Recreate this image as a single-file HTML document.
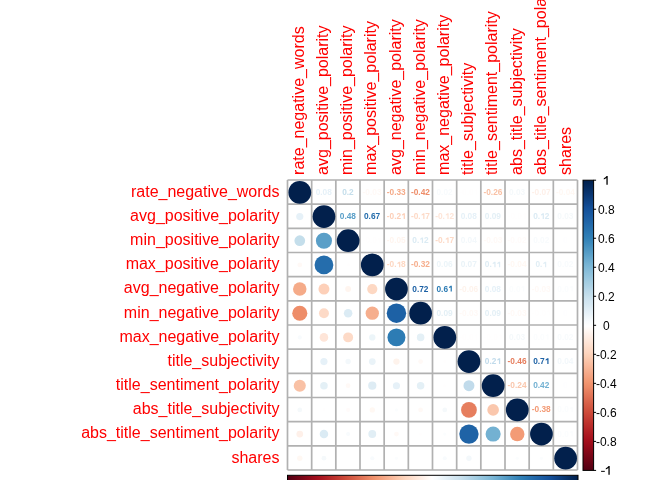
<!DOCTYPE html><html><head><meta charset="utf-8"><style>html,body{margin:0;padding:0;background:#fff;width:672px;height:480px;overflow:hidden}svg{display:block;will-change:transform}text{font-family:"Liberation Sans",sans-serif}</style></head><body>
<svg width="672" height="480" viewBox="0 0 672 480">
<defs><linearGradient id="gv" x1="0" y1="1" x2="0" y2="0">
<stop offset="0.000" stop-color="#520012"/>
<stop offset="0.015" stop-color="#5D0114"/>
<stop offset="0.030" stop-color="#6A0315"/>
<stop offset="0.045" stop-color="#750516"/>
<stop offset="0.060" stop-color="#810718"/>
<stop offset="0.075" stop-color="#8E0919"/>
<stop offset="0.090" stop-color="#9B0C1B"/>
<stop offset="0.106" stop-color="#A5101D"/>
<stop offset="0.121" stop-color="#AB1821"/>
<stop offset="0.136" stop-color="#B22125"/>
<stop offset="0.151" stop-color="#B82B2A"/>
<stop offset="0.166" stop-color="#BF342E"/>
<stop offset="0.181" stop-color="#C43E34"/>
<stop offset="0.196" stop-color="#CC4838"/>
<stop offset="0.211" stop-color="#D0533F"/>
<stop offset="0.226" stop-color="#D65D46"/>
<stop offset="0.241" stop-color="#DB684E"/>
<stop offset="0.256" stop-color="#E17356"/>
<stop offset="0.271" stop-color="#E67E5E"/>
<stop offset="0.286" stop-color="#EC8A67"/>
<stop offset="0.302" stop-color="#F1956F"/>
<stop offset="0.317" stop-color="#F39E7A"/>
<stop offset="0.332" stop-color="#F5A786"/>
<stop offset="0.347" stop-color="#F6B191"/>
<stop offset="0.362" stop-color="#F9BA9D"/>
<stop offset="0.377" stop-color="#FAC4A8"/>
<stop offset="0.392" stop-color="#FBCEB4"/>
<stop offset="0.407" stop-color="#FDD6C0"/>
<stop offset="0.422" stop-color="#FDDCC9"/>
<stop offset="0.437" stop-color="#FEE3D4"/>
<stop offset="0.452" stop-color="#FEEADE"/>
<stop offset="0.467" stop-color="#FEF0E9"/>
<stop offset="0.482" stop-color="#FFF8F3"/>
<stop offset="0.497" stop-color="#FFFEFE"/>
<stop offset="0.513" stop-color="#F8FBFD"/>
<stop offset="0.528" stop-color="#EFF6FA"/>
<stop offset="0.543" stop-color="#E6F1F8"/>
<stop offset="0.558" stop-color="#DEECF4"/>
<stop offset="0.573" stop-color="#D5E7F1"/>
<stop offset="0.588" stop-color="#CEE3EF"/>
<stop offset="0.603" stop-color="#C4DEEB"/>
<stop offset="0.618" stop-color="#BAD8E9"/>
<stop offset="0.633" stop-color="#AED2E5"/>
<stop offset="0.648" stop-color="#A4CDE1"/>
<stop offset="0.663" stop-color="#98C7DF"/>
<stop offset="0.678" stop-color="#8EC1DB"/>
<stop offset="0.693" stop-color="#83BBD8"/>
<stop offset="0.709" stop-color="#77B4D4"/>
<stop offset="0.724" stop-color="#6BABCF"/>
<stop offset="0.739" stop-color="#5EA3CA"/>
<stop offset="0.754" stop-color="#539AC4"/>
<stop offset="0.769" stop-color="#4792C0"/>
<stop offset="0.784" stop-color="#3C89BB"/>
<stop offset="0.799" stop-color="#3181B6"/>
<stop offset="0.814" stop-color="#2C7AB3"/>
<stop offset="0.829" stop-color="#2772AE"/>
<stop offset="0.844" stop-color="#236BAB"/>
<stop offset="0.859" stop-color="#1F63A6"/>
<stop offset="0.874" stop-color="#1B5DA3"/>
<stop offset="0.889" stop-color="#17569E"/>
<stop offset="0.905" stop-color="#134F98"/>
<stop offset="0.920" stop-color="#10468B"/>
<stop offset="0.935" stop-color="#0D3F7F"/>
<stop offset="0.950" stop-color="#0A3773"/>
<stop offset="0.965" stop-color="#073067"/>
<stop offset="0.980" stop-color="#05295B"/>
<stop offset="0.995" stop-color="#022250"/>
<stop offset="1" stop-color="#02204C"/>
</linearGradient><linearGradient id="gh" x1="0" y1="0" x2="1" y2="0">
<stop offset="0.000" stop-color="#520012"/>
<stop offset="0.015" stop-color="#5D0114"/>
<stop offset="0.030" stop-color="#6A0315"/>
<stop offset="0.045" stop-color="#750516"/>
<stop offset="0.060" stop-color="#810718"/>
<stop offset="0.075" stop-color="#8E0919"/>
<stop offset="0.090" stop-color="#9B0C1B"/>
<stop offset="0.106" stop-color="#A5101D"/>
<stop offset="0.121" stop-color="#AB1821"/>
<stop offset="0.136" stop-color="#B22125"/>
<stop offset="0.151" stop-color="#B82B2A"/>
<stop offset="0.166" stop-color="#BF342E"/>
<stop offset="0.181" stop-color="#C43E34"/>
<stop offset="0.196" stop-color="#CC4838"/>
<stop offset="0.211" stop-color="#D0533F"/>
<stop offset="0.226" stop-color="#D65D46"/>
<stop offset="0.241" stop-color="#DB684E"/>
<stop offset="0.256" stop-color="#E17356"/>
<stop offset="0.271" stop-color="#E67E5E"/>
<stop offset="0.286" stop-color="#EC8A67"/>
<stop offset="0.302" stop-color="#F1956F"/>
<stop offset="0.317" stop-color="#F39E7A"/>
<stop offset="0.332" stop-color="#F5A786"/>
<stop offset="0.347" stop-color="#F6B191"/>
<stop offset="0.362" stop-color="#F9BA9D"/>
<stop offset="0.377" stop-color="#FAC4A8"/>
<stop offset="0.392" stop-color="#FBCEB4"/>
<stop offset="0.407" stop-color="#FDD6C0"/>
<stop offset="0.422" stop-color="#FDDCC9"/>
<stop offset="0.437" stop-color="#FEE3D4"/>
<stop offset="0.452" stop-color="#FEEADE"/>
<stop offset="0.467" stop-color="#FEF0E9"/>
<stop offset="0.482" stop-color="#FFF8F3"/>
<stop offset="0.497" stop-color="#FFFEFE"/>
<stop offset="0.513" stop-color="#F8FBFD"/>
<stop offset="0.528" stop-color="#EFF6FA"/>
<stop offset="0.543" stop-color="#E6F1F8"/>
<stop offset="0.558" stop-color="#DEECF4"/>
<stop offset="0.573" stop-color="#D5E7F1"/>
<stop offset="0.588" stop-color="#CEE3EF"/>
<stop offset="0.603" stop-color="#C4DEEB"/>
<stop offset="0.618" stop-color="#BAD8E9"/>
<stop offset="0.633" stop-color="#AED2E5"/>
<stop offset="0.648" stop-color="#A4CDE1"/>
<stop offset="0.663" stop-color="#98C7DF"/>
<stop offset="0.678" stop-color="#8EC1DB"/>
<stop offset="0.693" stop-color="#83BBD8"/>
<stop offset="0.709" stop-color="#77B4D4"/>
<stop offset="0.724" stop-color="#6BABCF"/>
<stop offset="0.739" stop-color="#5EA3CA"/>
<stop offset="0.754" stop-color="#539AC4"/>
<stop offset="0.769" stop-color="#4792C0"/>
<stop offset="0.784" stop-color="#3C89BB"/>
<stop offset="0.799" stop-color="#3181B6"/>
<stop offset="0.814" stop-color="#2C7AB3"/>
<stop offset="0.829" stop-color="#2772AE"/>
<stop offset="0.844" stop-color="#236BAB"/>
<stop offset="0.859" stop-color="#1F63A6"/>
<stop offset="0.874" stop-color="#1B5DA3"/>
<stop offset="0.889" stop-color="#17569E"/>
<stop offset="0.905" stop-color="#134F98"/>
<stop offset="0.920" stop-color="#10468B"/>
<stop offset="0.935" stop-color="#0D3F7F"/>
<stop offset="0.950" stop-color="#0A3773"/>
<stop offset="0.965" stop-color="#073067"/>
<stop offset="0.980" stop-color="#05295B"/>
<stop offset="0.995" stop-color="#022250"/>
<stop offset="1" stop-color="#02204C"/>
</linearGradient></defs>
<path d="M287.50 180.00V470.00M287.50 180.00H577.50M311.67 180.00V470.00M287.50 204.17H577.50M335.83 180.00V470.00M287.50 228.33H577.50M360.00 180.00V470.00M287.50 252.50H577.50M384.17 180.00V470.00M287.50 276.67H577.50M408.33 180.00V470.00M287.50 300.83H577.50M432.50 180.00V470.00M287.50 325.00H577.50M456.67 180.00V470.00M287.50 349.17H577.50M480.83 180.00V470.00M287.50 373.33H577.50M505.00 180.00V470.00M287.50 397.50H577.50M529.17 180.00V470.00M287.50 421.67H577.50M553.33 180.00V470.00M287.50 445.83H577.50M577.50 180.00V470.00M287.50 470.00H577.50" stroke="#B1B1B1" stroke-width="1.70" fill="none"/>
<circle cx="299.78" cy="192.38" r="11.38" fill="#02204C"/>
<text x="323.75" y="194.98" font-size="8.3" font-weight="bold" text-anchor="middle" fill="#E6F1F8">0.08</text>
<text x="347.92" y="194.98" font-size="8.3" font-weight="bold" text-anchor="middle" fill="#C4DEEB">0.2</text>
<text x="372.08" y="194.98" font-size="8.3" font-weight="bold" text-anchor="middle" fill="#FFF9F6">-0.03</text>
<text x="396.25" y="194.98" font-size="8.3" font-weight="bold" text-anchor="middle" fill="#F5AB89">-0.33</text>
<text x="420.42" y="194.98" font-size="8.3" font-weight="bold" text-anchor="middle" fill="#EE8D69">-0.42</text>
<text x="444.58" y="194.98" font-size="8.3" font-weight="bold" text-anchor="middle" fill="#F8FBFD">0.02</text>
<path d="M476.17 189.17 L477.41 189.17 L477.41 194.73 L476.17 194.73 L476.17 190.92 L474.51 191.41 L474.51 190.42 Z" fill="#FFFEFE"/>
<text x="459.29" y="194.98" font-size="8.3" font-weight="bold" fill="#FFFEFE">-</text>
<text x="462.06" y="194.98" font-size="8.3" font-weight="bold" fill="#FFFEFE">0</text>
<text x="466.67" y="194.98" font-size="8.3" font-weight="bold" fill="#FFFEFE">.</text>
<text x="468.98" y="194.98" font-size="8.3" font-weight="bold" fill="#FFFEFE">0</text>
<text x="492.92" y="194.98" font-size="8.3" font-weight="bold" text-anchor="middle" fill="#F9C1A5">-0.26</text>
<text x="517.08" y="194.98" font-size="8.3" font-weight="bold" text-anchor="middle" fill="#F5F9FB">0.03</text>
<text x="541.25" y="194.98" font-size="8.3" font-weight="bold" text-anchor="middle" fill="#FEF0E9">-0.07</text>
<text x="565.42" y="194.98" font-size="8.3" font-weight="bold" text-anchor="middle" fill="#FFF8F3">-0.04</text>
<circle cx="299.78" cy="216.55" r="3.58" fill="#E6F1F8"/>
<circle cx="323.95" cy="216.55" r="11.38" fill="#02204C"/>
<text x="347.92" y="219.15" font-size="8.3" font-weight="bold" text-anchor="middle" fill="#5A9FC8">0.48</text>
<text x="372.08" y="219.15" font-size="8.3" font-weight="bold" text-anchor="middle" fill="#256DAC">0.67</text>
<path d="M403.67 213.34 L404.91 213.34 L404.91 218.90 L403.67 218.90 L403.67 215.08 L402.01 215.58 L402.01 214.59 Z" fill="#FDD0B9"/>
<text x="386.79" y="219.15" font-size="8.3" font-weight="bold" fill="#FDD0B9">-</text>
<text x="389.56" y="219.15" font-size="8.3" font-weight="bold" fill="#FDD0B9">0</text>
<text x="394.17" y="219.15" font-size="8.3" font-weight="bold" fill="#FDD0B9">.</text>
<text x="396.48" y="219.15" font-size="8.3" font-weight="bold" fill="#FDD0B9">2</text>
<path d="M423.22 213.34 L424.46 213.34 L424.46 218.90 L423.22 218.90 L423.22 215.08 L421.56 215.58 L421.56 214.59 Z" fill="#FDDAC7"/>
<text x="410.96" y="219.15" font-size="8.3" font-weight="bold" fill="#FDDAC7">-</text>
<text x="413.72" y="219.15" font-size="8.3" font-weight="bold" fill="#FDDAC7">0</text>
<text x="418.34" y="219.15" font-size="8.3" font-weight="bold" fill="#FDDAC7">.</text>
<text x="425.26" y="219.15" font-size="8.3" font-weight="bold" fill="#FDDAC7">7</text>
<path d="M447.38 213.34 L448.63 213.34 L448.63 218.90 L447.38 218.90 L447.38 215.08 L445.72 215.58 L445.72 214.59 Z" fill="#FEE5D8"/>
<text x="435.13" y="219.15" font-size="8.3" font-weight="bold" fill="#FEE5D8">-</text>
<text x="437.89" y="219.15" font-size="8.3" font-weight="bold" fill="#FEE5D8">0</text>
<text x="442.50" y="219.15" font-size="8.3" font-weight="bold" fill="#FEE5D8">.</text>
<text x="449.43" y="219.15" font-size="8.3" font-weight="bold" fill="#FEE5D8">2</text>
<text x="468.75" y="219.15" font-size="8.3" font-weight="bold" text-anchor="middle" fill="#E6F1F8">0.08</text>
<text x="492.92" y="219.15" font-size="8.3" font-weight="bold" text-anchor="middle" fill="#E4F0F6">0.09</text>
<path d="M524.50 213.34 L525.74 213.34 L525.74 218.90 L524.50 218.90 L524.50 215.08 L522.84 215.58 L522.84 214.59 Z" fill="#FFFEFE"/>
<text x="507.63" y="219.15" font-size="8.3" font-weight="bold" fill="#FFFEFE">-</text>
<text x="510.39" y="219.15" font-size="8.3" font-weight="bold" fill="#FFFEFE">0</text>
<text x="515.00" y="219.15" font-size="8.3" font-weight="bold" fill="#FFFEFE">.</text>
<text x="517.31" y="219.15" font-size="8.3" font-weight="bold" fill="#FFFEFE">0</text>
<path d="M542.67 213.34 L543.91 213.34 L543.91 218.90 L542.67 218.90 L542.67 215.08 L541.01 215.58 L541.01 214.59 Z" fill="#DBEBF4"/>
<text x="533.17" y="219.15" font-size="8.3" font-weight="bold" fill="#DBEBF4">0</text>
<text x="537.79" y="219.15" font-size="8.3" font-weight="bold" fill="#DBEBF4">.</text>
<text x="544.71" y="219.15" font-size="8.3" font-weight="bold" fill="#DBEBF4">2</text>
<text x="565.42" y="219.15" font-size="8.3" font-weight="bold" text-anchor="middle" fill="#F5F9FB">0.03</text>
<circle cx="299.78" cy="240.72" r="5.36" fill="#C4DEEB"/>
<circle cx="323.95" cy="240.72" r="8.03" fill="#5A9FC8"/>
<circle cx="348.12" cy="240.72" r="11.38" fill="#02204C"/>
<path d="M379.50 237.51 L380.74 237.51 L380.74 243.07 L379.50 243.07 L379.50 239.25 L377.84 239.75 L377.84 238.75 Z" fill="#FFFEFE"/>
<text x="362.63" y="243.32" font-size="8.3" font-weight="bold" fill="#FFFEFE">-</text>
<text x="365.39" y="243.32" font-size="8.3" font-weight="bold" fill="#FFFEFE">0</text>
<text x="370.00" y="243.32" font-size="8.3" font-weight="bold" fill="#FFFEFE">.</text>
<text x="372.31" y="243.32" font-size="8.3" font-weight="bold" fill="#FFFEFE">0</text>
<text x="396.25" y="243.32" font-size="8.3" font-weight="bold" text-anchor="middle" fill="#FFF5EF">-0.05</text>
<path d="M421.84 237.51 L423.08 237.51 L423.08 243.07 L421.84 243.07 L421.84 239.25 L420.18 239.75 L420.18 238.75 Z" fill="#DBEBF4"/>
<text x="412.34" y="243.32" font-size="8.3" font-weight="bold" fill="#DBEBF4">0</text>
<text x="416.96" y="243.32" font-size="8.3" font-weight="bold" fill="#DBEBF4">.</text>
<text x="423.88" y="243.32" font-size="8.3" font-weight="bold" fill="#DBEBF4">2</text>
<path d="M447.38 237.51 L448.63 237.51 L448.63 243.07 L447.38 243.07 L447.38 239.25 L445.72 239.75 L445.72 238.75 Z" fill="#FDDAC7"/>
<text x="435.13" y="243.32" font-size="8.3" font-weight="bold" fill="#FDDAC7">-</text>
<text x="437.89" y="243.32" font-size="8.3" font-weight="bold" fill="#FDDAC7">0</text>
<text x="442.50" y="243.32" font-size="8.3" font-weight="bold" fill="#FDDAC7">.</text>
<text x="449.43" y="243.32" font-size="8.3" font-weight="bold" fill="#FDDAC7">7</text>
<text x="468.75" y="243.32" font-size="8.3" font-weight="bold" text-anchor="middle" fill="#F3F8FB">0.04</text>
<text x="492.92" y="243.32" font-size="8.3" font-weight="bold" text-anchor="middle" fill="#FFF9F6">-0.03</text>
<text x="517.08" y="243.32" font-size="8.3" font-weight="bold" text-anchor="middle" fill="#FFFBFA">-0.02</text>
<text x="541.25" y="243.32" font-size="8.3" font-weight="bold" text-anchor="middle" fill="#F8FBFD">0.02</text>
<text x="565.42" y="243.32" font-size="8.3" font-weight="bold" text-anchor="middle" fill="#FEFEFF">0</text>
<circle cx="299.78" cy="264.88" r="2.38" fill="#FFF9F6"/>
<circle cx="323.95" cy="264.88" r="9.40" fill="#256DAC"/>
<circle cx="348.12" cy="264.88" r="1.59" fill="#FFFEFE"/>
<circle cx="372.28" cy="264.88" r="11.38" fill="#02204C"/>
<path d="M399.05 261.67 L400.30 261.67 L400.30 267.23 L399.05 267.23 L399.05 263.42 L397.39 263.91 L397.39 262.92 Z" fill="#FDD8C3"/>
<text x="386.79" y="267.48" font-size="8.3" font-weight="bold" fill="#FDD8C3">-</text>
<text x="389.56" y="267.48" font-size="8.3" font-weight="bold" fill="#FDD8C3">0</text>
<text x="394.17" y="267.48" font-size="8.3" font-weight="bold" fill="#FDD8C3">.</text>
<text x="401.09" y="267.48" font-size="8.3" font-weight="bold" fill="#FDD8C3">8</text>
<text x="420.42" y="267.48" font-size="8.3" font-weight="bold" text-anchor="middle" fill="#F6AE8D">-0.32</text>
<text x="444.58" y="267.48" font-size="8.3" font-weight="bold" text-anchor="middle" fill="#ECF5F9">0.06</text>
<text x="468.75" y="267.48" font-size="8.3" font-weight="bold" text-anchor="middle" fill="#EAF3F8">0.07</text>
<path d="M494.34 261.67 L495.58 261.67 L495.58 267.23 L494.34 267.23 L494.34 263.42 L492.68 263.91 L492.68 262.92 Z" fill="#DEECF4"/>
<path d="M498.95 261.67 L500.20 261.67 L500.20 267.23 L498.95 267.23 L498.95 263.42 L497.29 263.91 L497.29 262.92 Z" fill="#DEECF4"/>
<text x="484.84" y="267.48" font-size="8.3" font-weight="bold" fill="#DEECF4">0</text>
<text x="489.46" y="267.48" font-size="8.3" font-weight="bold" fill="#DEECF4">.</text>
<text x="517.08" y="267.48" font-size="8.3" font-weight="bold" text-anchor="middle" fill="#FFF8F3">-0.04</text>
<path d="M544.98 261.67 L546.22 261.67 L546.22 267.23 L544.98 267.23 L544.98 263.42 L543.32 263.91 L543.32 262.92 Z" fill="#E1EEF5"/>
<text x="535.48" y="267.48" font-size="8.3" font-weight="bold" fill="#E1EEF5">0</text>
<text x="540.10" y="267.48" font-size="8.3" font-weight="bold" fill="#E1EEF5">.</text>
<text x="565.42" y="267.48" font-size="8.3" font-weight="bold" text-anchor="middle" fill="#F8FBFD">0.02</text>
<circle cx="299.78" cy="289.05" r="6.75" fill="#F5AB89"/>
<circle cx="323.95" cy="289.05" r="5.48" fill="#FDD0B9"/>
<circle cx="348.12" cy="289.05" r="2.93" fill="#FFF5EF"/>
<circle cx="372.28" cy="289.05" r="5.11" fill="#FDD8C3"/>
<circle cx="396.45" cy="289.05" r="11.38" fill="#02204C"/>
<text x="420.42" y="291.65" font-size="8.3" font-weight="bold" text-anchor="middle" fill="#1D61A5">0.72</text>
<path d="M450.62 285.84 L451.86 285.84 L451.86 291.40 L450.62 291.40 L450.62 287.58 L448.96 288.08 L448.96 287.08 Z" fill="#2D7CB4"/>
<text x="436.51" y="291.65" font-size="8.3" font-weight="bold" fill="#2D7CB4">0</text>
<text x="441.12" y="291.65" font-size="8.3" font-weight="bold" fill="#2D7CB4">.</text>
<text x="443.43" y="291.65" font-size="8.3" font-weight="bold" fill="#2D7CB4">6</text>
<text x="468.75" y="291.65" font-size="8.3" font-weight="bold" text-anchor="middle" fill="#FEF3EC">-0.06</text>
<text x="492.92" y="291.65" font-size="8.3" font-weight="bold" text-anchor="middle" fill="#E6F1F8">0.08</text>
<path d="M523.12 285.84 L524.36 285.84 L524.36 291.40 L523.12 291.40 L523.12 287.58 L521.46 288.08 L521.46 287.08 Z" fill="#FBFDFE"/>
<text x="509.01" y="291.65" font-size="8.3" font-weight="bold" fill="#FBFDFE">0</text>
<text x="513.62" y="291.65" font-size="8.3" font-weight="bold" fill="#FBFDFE">.</text>
<text x="515.93" y="291.65" font-size="8.3" font-weight="bold" fill="#FBFDFE">0</text>
<text x="541.25" y="291.65" font-size="8.3" font-weight="bold" text-anchor="middle" fill="#FFF9F6">-0.03</text>
<path d="M571.45 285.84 L572.70 285.84 L572.70 291.40 L571.45 291.40 L571.45 287.58 L569.79 288.08 L569.79 287.08 Z" fill="#FBFDFE"/>
<text x="557.34" y="291.65" font-size="8.3" font-weight="bold" fill="#FBFDFE">0</text>
<text x="561.96" y="291.65" font-size="8.3" font-weight="bold" fill="#FBFDFE">.</text>
<text x="564.26" y="291.65" font-size="8.3" font-weight="bold" fill="#FBFDFE">0</text>
<circle cx="299.78" cy="313.22" r="7.55" fill="#EE8D69"/>
<circle cx="323.95" cy="313.22" r="4.98" fill="#FDDAC7"/>
<circle cx="348.12" cy="313.22" r="4.27" fill="#DBEBF4"/>
<circle cx="372.28" cy="313.22" r="6.65" fill="#F6AE8D"/>
<circle cx="396.45" cy="313.22" r="9.73" fill="#1D61A5"/>
<circle cx="420.62" cy="313.22" r="11.38" fill="#02204C"/>
<text x="444.58" y="315.82" font-size="8.3" font-weight="bold" text-anchor="middle" fill="#E4F0F6">0.09</text>
<text x="468.75" y="315.82" font-size="8.3" font-weight="bold" text-anchor="middle" fill="#FFF9F6">-0.03</text>
<text x="492.92" y="315.82" font-size="8.3" font-weight="bold" text-anchor="middle" fill="#E4F0F6">0.09</text>
<text x="517.08" y="315.82" font-size="8.3" font-weight="bold" text-anchor="middle" fill="#FFF9F6">-0.03</text>
<path d="M548.67 310.01 L549.91 310.01 L549.91 315.57 L548.67 315.57 L548.67 311.75 L547.01 312.25 L547.01 311.25 Z" fill="#FFFEFE"/>
<text x="531.79" y="315.82" font-size="8.3" font-weight="bold" fill="#FFFEFE">-</text>
<text x="534.56" y="315.82" font-size="8.3" font-weight="bold" fill="#FFFEFE">0</text>
<text x="539.17" y="315.82" font-size="8.3" font-weight="bold" fill="#FFFEFE">.</text>
<text x="541.48" y="315.82" font-size="8.3" font-weight="bold" fill="#FFFEFE">0</text>
<text x="565.42" y="315.82" font-size="8.3" font-weight="bold" text-anchor="middle" fill="#FEFEFF">0</text>
<circle cx="299.78" cy="337.38" r="2.04" fill="#F8FBFD"/>
<circle cx="323.95" cy="337.38" r="4.27" fill="#FEE5D8"/>
<circle cx="348.12" cy="337.38" r="4.98" fill="#FDDAC7"/>
<circle cx="372.28" cy="337.38" r="3.16" fill="#ECF5F9"/>
<circle cx="396.45" cy="337.38" r="8.99" fill="#2D7CB4"/>
<circle cx="420.62" cy="337.38" r="3.76" fill="#E4F0F6"/>
<circle cx="444.78" cy="337.38" r="11.38" fill="#02204C"/>
<path d="M476.17 334.17 L477.41 334.17 L477.41 339.73 L476.17 339.73 L476.17 335.92 L474.51 336.41 L474.51 335.42 Z" fill="#FFFEFE"/>
<text x="459.29" y="339.98" font-size="8.3" font-weight="bold" fill="#FFFEFE">-</text>
<text x="462.06" y="339.98" font-size="8.3" font-weight="bold" fill="#FFFEFE">0</text>
<text x="466.67" y="339.98" font-size="8.3" font-weight="bold" fill="#FFFEFE">.</text>
<text x="468.98" y="339.98" font-size="8.3" font-weight="bold" fill="#FFFEFE">0</text>
<path d="M500.33 334.17 L501.58 334.17 L501.58 339.73 L500.33 339.73 L500.33 335.92 L498.67 336.41 L498.67 335.42 Z" fill="#FFFEFE"/>
<text x="483.46" y="339.98" font-size="8.3" font-weight="bold" fill="#FFFEFE">-</text>
<text x="486.22" y="339.98" font-size="8.3" font-weight="bold" fill="#FFFEFE">0</text>
<text x="490.84" y="339.98" font-size="8.3" font-weight="bold" fill="#FFFEFE">.</text>
<text x="493.14" y="339.98" font-size="8.3" font-weight="bold" fill="#FFFEFE">0</text>
<text x="517.08" y="339.98" font-size="8.3" font-weight="bold" text-anchor="middle" fill="#F5F9FB">0.03</text>
<path d="M547.28 334.17 L548.53 334.17 L548.53 339.73 L547.28 339.73 L547.28 335.92 L545.62 336.41 L545.62 335.42 Z" fill="#FBFDFE"/>
<text x="533.17" y="339.98" font-size="8.3" font-weight="bold" fill="#FBFDFE">0</text>
<text x="537.79" y="339.98" font-size="8.3" font-weight="bold" fill="#FBFDFE">.</text>
<text x="540.10" y="339.98" font-size="8.3" font-weight="bold" fill="#FBFDFE">0</text>
<text x="565.42" y="339.98" font-size="8.3" font-weight="bold" text-anchor="middle" fill="#F8FBFD">0.02</text>
<circle cx="299.78" cy="361.55" r="1.59" fill="#FFFEFE"/>
<circle cx="323.95" cy="361.55" r="3.58" fill="#E6F1F8"/>
<circle cx="348.12" cy="361.55" r="2.68" fill="#F3F8FB"/>
<circle cx="372.28" cy="361.55" r="3.38" fill="#EAF3F8"/>
<circle cx="396.45" cy="361.55" r="3.16" fill="#FEF3EC"/>
<circle cx="420.62" cy="361.55" r="2.38" fill="#FFF9F6"/>
<circle cx="444.78" cy="361.55" r="1.59" fill="#FFFEFE"/>
<circle cx="468.95" cy="361.55" r="11.38" fill="#02204C"/>
<path d="M498.95 358.34 L500.20 358.34 L500.20 363.90 L498.95 363.90 L498.95 360.08 L497.29 360.58 L497.29 359.58 Z" fill="#C1DBEB"/>
<text x="484.84" y="364.15" font-size="8.3" font-weight="bold" fill="#C1DBEB">0</text>
<text x="489.46" y="364.15" font-size="8.3" font-weight="bold" fill="#C1DBEB">.</text>
<text x="491.76" y="364.15" font-size="8.3" font-weight="bold" fill="#C1DBEB">2</text>
<text x="517.08" y="364.15" font-size="8.3" font-weight="bold" text-anchor="middle" fill="#E67E5E">-0.46</text>
<path d="M547.28 358.34 L548.53 358.34 L548.53 363.90 L547.28 363.90 L547.28 360.08 L545.62 360.58 L545.62 359.58 Z" fill="#1F63A6"/>
<text x="533.17" y="364.15" font-size="8.3" font-weight="bold" fill="#1F63A6">0</text>
<text x="537.79" y="364.15" font-size="8.3" font-weight="bold" fill="#1F63A6">.</text>
<text x="540.10" y="364.15" font-size="8.3" font-weight="bold" fill="#1F63A6">7</text>
<text x="565.42" y="364.15" font-size="8.3" font-weight="bold" text-anchor="middle" fill="#F3F8FB">0.04</text>
<circle cx="299.78" cy="385.72" r="6.05" fill="#F9C1A5"/>
<circle cx="323.95" cy="385.72" r="3.76" fill="#E4F0F6"/>
<circle cx="348.12" cy="385.72" r="2.38" fill="#FFF9F6"/>
<circle cx="372.28" cy="385.72" r="4.11" fill="#DEECF4"/>
<circle cx="396.45" cy="385.72" r="3.58" fill="#E6F1F8"/>
<circle cx="420.62" cy="385.72" r="3.76" fill="#E4F0F6"/>
<circle cx="444.78" cy="385.72" r="1.59" fill="#FFFEFE"/>
<circle cx="468.95" cy="385.72" r="5.48" fill="#C1DBEB"/>
<circle cx="493.12" cy="385.72" r="11.38" fill="#02204C"/>
<text x="517.08" y="388.32" font-size="8.3" font-weight="bold" text-anchor="middle" fill="#FAC7AD">-0.24</text>
<text x="541.25" y="388.32" font-size="8.3" font-weight="bold" text-anchor="middle" fill="#73B1D2">0.42</text>
<text x="565.42" y="388.32" font-size="8.3" font-weight="bold" text-anchor="middle" fill="#FEFEFF">0</text>
<circle cx="299.78" cy="409.88" r="2.38" fill="#F5F9FB"/>
<circle cx="323.95" cy="409.88" r="1.59" fill="#FFFEFE"/>
<circle cx="348.12" cy="409.88" r="2.04" fill="#FFFBFA"/>
<circle cx="372.28" cy="409.88" r="2.68" fill="#FFF8F3"/>
<circle cx="396.45" cy="409.88" r="1.59" fill="#FBFDFE"/>
<circle cx="420.62" cy="409.88" r="2.38" fill="#FFF9F6"/>
<circle cx="444.78" cy="409.88" r="2.38" fill="#F5F9FB"/>
<circle cx="468.95" cy="409.88" r="7.88" fill="#E67E5E"/>
<circle cx="493.12" cy="409.88" r="5.83" fill="#FAC7AD"/>
<circle cx="517.28" cy="409.88" r="11.38" fill="#02204C"/>
<text x="541.25" y="412.48" font-size="8.3" font-weight="bold" text-anchor="middle" fill="#F39B76">-0.38</text>
<path d="M571.45 406.67 L572.70 406.67 L572.70 412.23 L571.45 412.23 L571.45 408.42 L569.79 408.91 L569.79 407.92 Z" fill="#FBFDFE"/>
<text x="557.34" y="412.48" font-size="8.3" font-weight="bold" fill="#FBFDFE">0</text>
<text x="561.96" y="412.48" font-size="8.3" font-weight="bold" fill="#FBFDFE">.</text>
<text x="564.26" y="412.48" font-size="8.3" font-weight="bold" fill="#FBFDFE">0</text>
<circle cx="299.78" cy="434.05" r="3.38" fill="#FEF0E9"/>
<circle cx="323.95" cy="434.05" r="4.27" fill="#DBEBF4"/>
<circle cx="348.12" cy="434.05" r="2.04" fill="#F8FBFD"/>
<circle cx="372.28" cy="434.05" r="3.94" fill="#E1EEF5"/>
<circle cx="396.45" cy="434.05" r="2.38" fill="#FFF9F6"/>
<circle cx="420.62" cy="434.05" r="1.59" fill="#FFFEFE"/>
<circle cx="444.78" cy="434.05" r="1.59" fill="#FBFDFE"/>
<circle cx="468.95" cy="434.05" r="9.66" fill="#1F63A6"/>
<circle cx="493.12" cy="434.05" r="7.55" fill="#73B1D2"/>
<circle cx="517.28" cy="434.05" r="7.20" fill="#F39B76"/>
<circle cx="541.45" cy="434.05" r="11.38" fill="#02204C"/>
<path d="M571.45 430.84 L572.70 430.84 L572.70 436.40 L571.45 436.40 L571.45 432.58 L569.79 433.08 L569.79 432.08 Z" fill="#FBFDFE"/>
<text x="557.34" y="436.65" font-size="8.3" font-weight="bold" fill="#FBFDFE">0</text>
<text x="561.96" y="436.65" font-size="8.3" font-weight="bold" fill="#FBFDFE">.</text>
<text x="564.26" y="436.65" font-size="8.3" font-weight="bold" fill="#FBFDFE">0</text>
<circle cx="299.78" cy="458.22" r="2.68" fill="#FFF8F3"/>
<circle cx="323.95" cy="458.22" r="2.38" fill="#F5F9FB"/>
<circle cx="372.28" cy="458.22" r="2.04" fill="#F8FBFD"/>
<circle cx="396.45" cy="458.22" r="1.59" fill="#FBFDFE"/>
<circle cx="444.78" cy="458.22" r="2.04" fill="#F8FBFD"/>
<circle cx="468.95" cy="458.22" r="2.68" fill="#F3F8FB"/>
<circle cx="517.28" cy="458.22" r="1.59" fill="#FBFDFE"/>
<circle cx="541.45" cy="458.22" r="1.59" fill="#FBFDFE"/>
<circle cx="565.62" cy="458.22" r="11.38" fill="#02204C"/>
<text x="279.50" y="196.68" font-size="16" text-anchor="end" fill="#FF0000">rate_negative_words</text>
<text x="279.50" y="220.85" font-size="16" text-anchor="end" fill="#FF0000">avg_positive_polarity</text>
<text x="279.50" y="245.02" font-size="16" text-anchor="end" fill="#FF0000">min_positive_polarity</text>
<text x="279.50" y="269.18" font-size="16" text-anchor="end" fill="#FF0000">max_positive_polarity</text>
<text x="279.50" y="293.35" font-size="16" text-anchor="end" fill="#FF0000">avg_negative_polarity</text>
<text x="279.50" y="317.52" font-size="16" text-anchor="end" fill="#FF0000">min_negative_polarity</text>
<text x="279.50" y="341.68" font-size="16" text-anchor="end" fill="#FF0000">max_negative_polarity</text>
<text x="279.50" y="365.85" font-size="16" text-anchor="end" fill="#FF0000">title_subjectivity</text>
<text x="279.50" y="390.02" font-size="16" text-anchor="end" fill="#FF0000">title_sentiment_polarity</text>
<text x="279.50" y="414.18" font-size="16" text-anchor="end" fill="#FF0000">abs_title_subjectivity</text>
<text x="279.50" y="438.35" font-size="16" text-anchor="end" fill="#FF0000">abs_title_sentiment_polarity</text>
<text x="279.50" y="462.52" font-size="16" text-anchor="end" fill="#FF0000">shares</text>
<text transform="translate(303.98,174.90) rotate(-90)" font-size="16" fill="#FF0000">rate_negative_words</text>
<text transform="translate(328.15,174.90) rotate(-90)" font-size="16" fill="#FF0000">avg_positive_polarity</text>
<text transform="translate(352.32,174.90) rotate(-90)" font-size="16" fill="#FF0000">min_positive_polarity</text>
<text transform="translate(376.48,174.90) rotate(-90)" font-size="16" fill="#FF0000">max_positive_polarity</text>
<text transform="translate(400.65,174.90) rotate(-90)" font-size="16" fill="#FF0000">avg_negative_polarity</text>
<text transform="translate(424.82,174.90) rotate(-90)" font-size="16" fill="#FF0000">min_negative_polarity</text>
<text transform="translate(448.98,174.90) rotate(-90)" font-size="16" fill="#FF0000">max_negative_polarity</text>
<text transform="translate(473.15,174.90) rotate(-90)" font-size="16" fill="#FF0000">title_subjectivity</text>
<text transform="translate(497.32,174.90) rotate(-90)" font-size="16" fill="#FF0000">title_sentiment_polarity</text>
<text transform="translate(522.08,174.90) rotate(-90)" font-size="16" fill="#FF0000">abs_title_subjectivity</text>
<text transform="translate(545.65,174.90) rotate(-90)" font-size="16" fill="#FF0000">abs_title_sentiment_polarity</text>
<text transform="translate(570.92,174.90) rotate(-90)" font-size="16" fill="#FF0000">shares</text>
<rect x="583.00" y="180.20" width="10.60" height="290.20" fill="url(#gv)" stroke="#000" stroke-width="1"/>
<path d="M607.70 175.90L607.70 184.75L606.40 184.75L606.40 177.90C605.80 178.50 604.80 179.10 603.80 179.40L603.80 178.20C605.00 177.50 606.00 176.80 606.60 175.90Z" fill="#000"/>
<text x="606.25" y="213.52" font-size="12" text-anchor="middle" fill="#000">0.8</text>
<text x="606.25" y="242.54" font-size="12" text-anchor="middle" fill="#000">0.6</text>
<text x="606.25" y="271.56" font-size="12" text-anchor="middle" fill="#000">0.4</text>
<text x="606.25" y="300.58" font-size="12" text-anchor="middle" fill="#000">0.2</text>
<text x="606.25" y="329.60" font-size="12" text-anchor="middle" fill="#000">0</text>
<text x="606.25" y="358.62" font-size="12" text-anchor="middle" fill="#000">-0.2</text>
<text x="606.25" y="387.64" font-size="12" text-anchor="middle" fill="#000">-0.4</text>
<text x="606.25" y="416.66" font-size="12" text-anchor="middle" fill="#000">-0.6</text>
<text x="606.25" y="445.68" font-size="12" text-anchor="middle" fill="#000">-0.8</text>
<path d="M601.1 470.85H604.8V471.85H601.1Z" fill="#000"/>
<path d="M609.70 465.90L609.70 474.75L608.40 474.75L608.40 467.90C607.80 468.50 606.80 469.10 605.80 469.40L605.80 468.20C607.00 467.50 608.00 466.80 608.60 465.90Z" fill="#000"/>
<path d="M593.60 180.20H596.10M593.60 209.22H596.10M593.60 238.24H596.10M593.60 267.26H596.10M593.60 296.28H596.10M593.60 325.30H596.10M593.60 354.32H596.10M593.60 383.34H596.10M593.60 412.36H596.10M593.60 441.38H596.10M593.60 470.40H596.10" stroke="#000" stroke-width="1"/>
<rect x="287.5" y="475.3" width="290.5" height="20" fill="url(#gh)" stroke="#000" stroke-width="1"/>
</svg></body></html>
